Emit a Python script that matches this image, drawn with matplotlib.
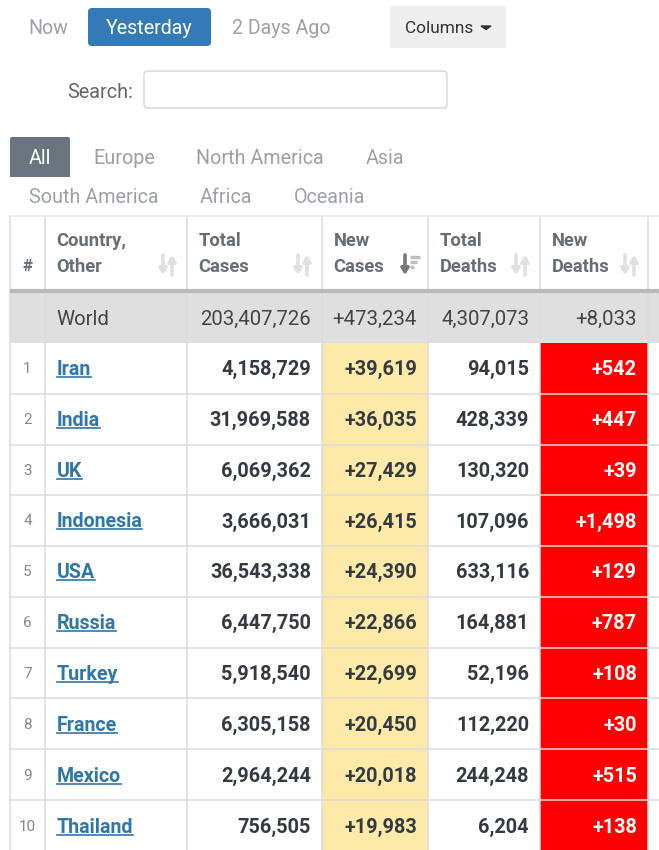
import matplotlib
matplotlib.use("Agg")
import matplotlib.pyplot as plt
from matplotlib.patches import Rectangle, FancyBboxPatch

plt.rcParams['font.family'] = ['Roboto', 'DejaVu Sans']

ranks = [str(i) for i in range(1, 11)]
countries = ["Iran", "India", "UK", "Indonesia", "USA", "Russia", "Turkey", "France", "Mexico", "Thailand"]
total_cases = ["4,158,729", "31,969,588", "6,069,362", "3,666,031", "36,543,338", "6,447,750", "5,918,540", "6,305,158", "2,964,244", "756,505"]
new_cases = ["+39,619", "+36,035", "+27,429", "+26,415", "+24,390", "+22,866", "+22,699", "+20,450", "+20,018", "+19,983"]
total_deaths = ["94,015", "428,339", "130,320", "107,096", "633,116", "164,881", "52,196", "112,220", "244,248", "6,204"]
new_deaths = ["+542", "+447", "+39", "+1,498", "+129", "+787", "+108", "+30", "+515", "+138"]
world = ["World", "203,407,726", "+473,234", "4,307,073", "+8,033"]
headers = [("Country,", "Other"), ("Total", "Cases"), ("New", "Cases"), ("Total", "Deaths"), ("New", "Deaths")]
filters = ["Now", "Yesterday", "2 Days Ago"]
regions1 = ["All", "Europe", "North America", "Asia"]
regions2 = ["South America", "Africa", "Oceania"]

col_x = [10, 45, 187, 322, 428, 540, 648, 662]
head_top, head_bot, world_bot, row_h = 216, 291, 343, 50.75
grid = "#dcdcdc"
GRAY = "#9aa0a8"

fig = plt.figure(figsize=(6.59, 8.5), dpi=100)
ax = fig.add_axes([0, 0, 1, 1])
ax.set_xlim(0, 659)
ax.set_ylim(850, 0)
ax.axis("off")


def rect(x0, y0, x1, y1, fc, z=1):
    ax.add_patch(Rectangle((x0, y0), x1 - x0, y1 - y0, fc=fc, ec="none", zorder=z))


def rbox(x0, y0, x1, y1, fc, ec="none", r=4):
    ax.add_patch(FancyBboxPatch((x0 + r, y0 + r), x1 - x0 - 2 * r, y1 - y0 - 2 * r,
                                boxstyle=f"round,pad={r},rounding_size={r}", fc=fc, ec=ec, lw=1.1, zorder=2))


def txt(x, y, s, color="#333a42", size=13.2, weight="normal", ha="left", family=None):
    kw = {"family": family} if family else {}
    return ax.text(x, y, s, color=color, fontsize=size, fontweight=weight, ha=ha, va="center_baseline", zorder=5, **kw)


# top controls
txt(28, 26.5, filters[0], GRAY, 14.1)
rbox(88, 8, 211, 46, "#337ab7")
txt(149.5, 26.5, filters[1], "white", 14.1, ha="center")
txt(232, 26.5, filters[2], GRAY, 14.1)
rbox(390, 6, 506, 48, "#eeeeee", r=2)
txt(405, 27, "Columns", "#333333", 12.4)
ax.fill([481, 491, 486], [26, 26, 29.5], color="#333333", zorder=5)
txt(133, 90, "Search:", "#666666", 14.3, ha="right")
rbox(144, 71, 447, 108, "white", ec="#d8d8d8")

# region tabs
ax.add_patch(FancyBboxPatch((12, 139), 56, 36, boxstyle="round,pad=2,rounding_size=2", fc="#69747f", ec="none", zorder=2))
rect(10, 165, 70, 177, "#69747f", 2)
txt(40, 156.5, regions1[0], "white", 14.2, ha="center")
for x, s in zip([93, 196, 366], regions1[1:]):
    txt(x, 156.5, s, GRAY, 14.2)
for x, s in zip([29, 200, 294], regions2):
    txt(x, 195.5, s, GRAY, 14.2)

# table fills
n = len(countries)
row_tops = [world_bot + i * row_h for i in range(n)]
rect(col_x[0], head_bot, 659, world_bot, "#dfdfdf")
for top in row_tops:
    rect(col_x[3], top, col_x[4], top + row_h, "#fdeaa8")
    rect(col_x[5], top, col_x[6], top + row_h, "#ff0000")

# grid lines
for x in col_x[:-1]:
    ax.plot([x, x], [head_top, 850], color=grid, lw=1.1, zorder=3)
ax.plot([col_x[0], 659], [head_top, head_top], color="#e8e8e8", lw=1.1, zorder=3)
ax.plot([col_x[0], 659], [head_bot, head_bot], color="#b9b9b9", lw=3, zorder=3, solid_capstyle="butt")
for top in row_tops[1:]:
    ax.plot([col_x[0], 659], [top, top], color=grid, lw=1.1, zorder=4, solid_capstyle="butt")

# header
txt(27.5, 265, "#", "#666e75", 12, "bold", ha="center")
for i, (a, b) in enumerate(headers):
    x = col_x[i + 1] + 11.5
    txt(x, 239, a, "#666e75", 13.2, "bold")
    txt(x, 265, b, "#666e75", 13.2, "bold")


def sort_icon(xr, active=False):
    c1 = "#e0e0e0"
    down = "#777777" if active else c1
    ax.annotate("", (xr - 14, 275), (xr - 14, 255), zorder=5,
                arrowprops=dict(arrowstyle="-|>,head_width=.22,head_length=.35", color=down, lw=2.6, shrinkA=0, shrinkB=0))
    if active:
        for k, w in enumerate([10, 7, 4]):
            ax.plot([xr - 9, xr - 9 + w], [257 + k * 5, 257 + k * 5], color="#bdbdbd", lw=2.4, solid_capstyle="butt", zorder=5)
    else:
        ax.annotate("", (xr - 5, 255), (xr - 5, 275), zorder=5,
                    arrowprops=dict(arrowstyle="-|>,head_width=.22,head_length=.35", color=c1, lw=2.6, shrinkA=0, shrinkB=0))


for xr, active in zip([177, 312, 419, 530, 639], [False, False, True, False, False]):
    sort_icon(xr, active)

# world row
world_y = 317.5
txt(col_x[1] + 11.5, world_y, world[0], "#444444", 14.7)
for i, v in enumerate(world[1:], start=2):
    txt(col_x[i + 1] - 11, world_y, v, "#444444", 14.7, ha="right")

# data rows
for i, top in enumerate(row_tops):
    y = top + row_h / 2 - 1 + i * 0.1
    txt(27.5, y, ranks[i], "#808890", 11, ha="center")
    t = txt(col_x[1] + 11.5, y, countries[i], "#2f77a8", 14.1, "bold")
    fig.canvas.draw()
    bb = t.get_window_extent().transformed(ax.transData.inverted())
    ax.plot([bb.x0, bb.x1], [y + 9.5, y + 9.5], color="#2f77a8", lw=1.2, zorder=5)
    txt(col_x[3] - 11, y, total_cases[i], "#333a42", 14.3, "bold", ha="right")
    txt(col_x[4] - 11, y, new_cases[i], "#333a42", 14.3, "bold", ha="right")
    txt(col_x[5] - 11, y, total_deaths[i], "#333a42", 14.3, "bold", ha="right")
    txt(col_x[6] - 11, y, new_deaths[i], "white", 14.3, "bold", ha="right")

fig.savefig("out.png", dpi=100, facecolor="white")
